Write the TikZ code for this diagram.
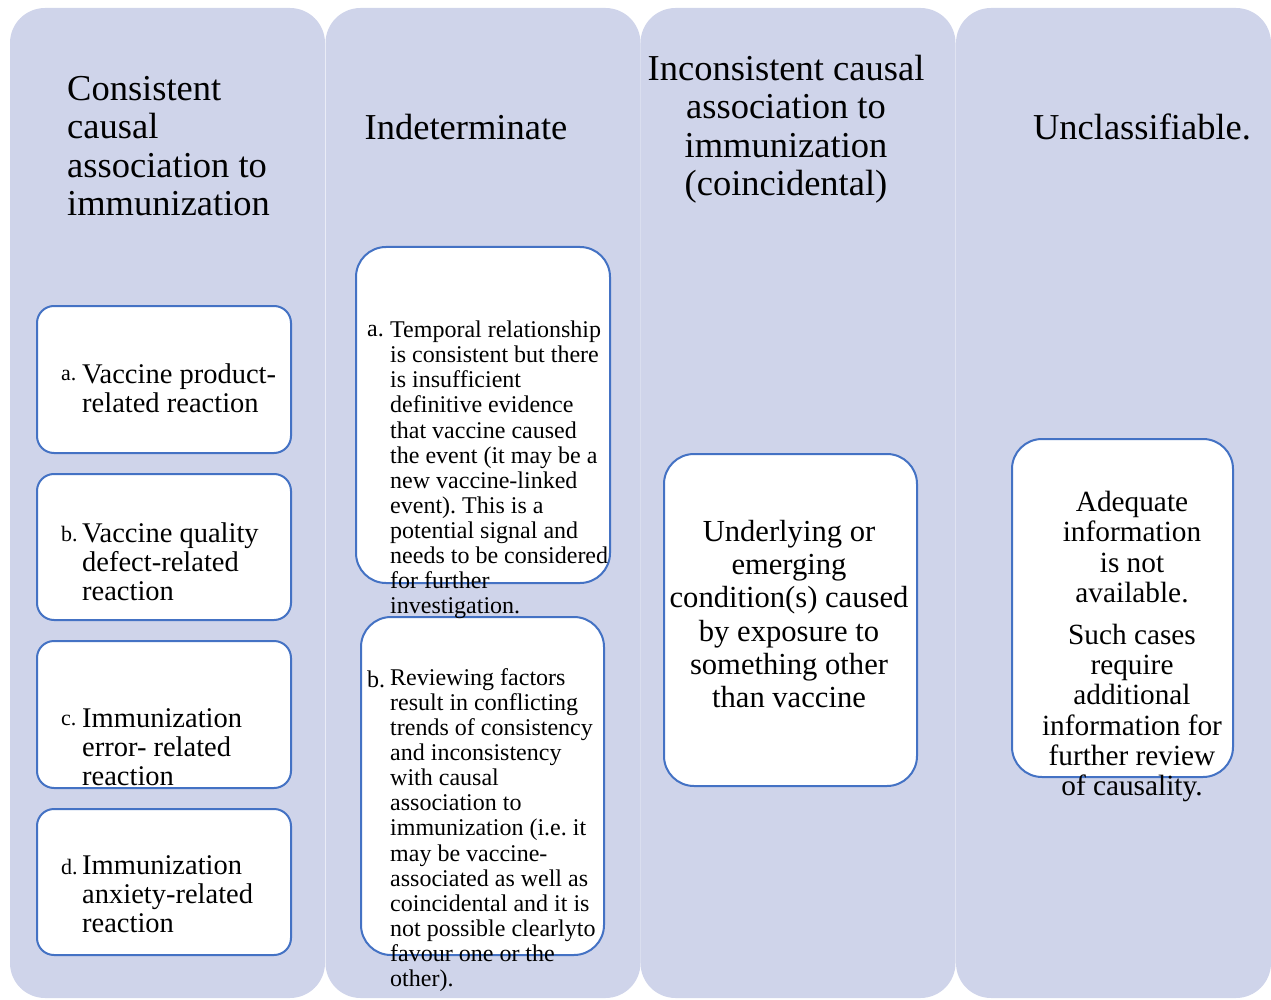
\documentclass[tikz,border=0pt]{standalone}
\usepackage{fontspec}
\setmainfont{Liberation Serif}
\frenchspacing
\definecolor{colbg}{RGB}{207,212,234}
\definecolor{boxline}{RGB}{68,114,196}
\tikzset{
  colbox/.style={rectangle, fill=colbg, rounded corners=35pt, inner sep=0pt},
  itembox/.style={rectangle, draw=boxline, line width=2pt, fill=white, inner sep=0pt},
  head/.style={inner sep=0pt, font=\fontsize{36.5}{38.5}\selectfont},
  txtA/.style={inner sep=0pt, align=left, font=\fontsize{28.5}{29}\selectfont},
  lblA/.style={inner sep=0pt, font=\fontsize{22}{24}\selectfont},
  txtB/.style={inner sep=0pt, align=left, font=\fontsize{24}{25.1}\selectfont},
  lblB/.style={inner sep=0pt, font=\fontsize{24}{25}\selectfont},
}
\begin{document}
\begin{tikzpicture}[x=1pt,y=-1pt]
\useasboundingbox (0,0) rectangle (1271,1000);
% columns
\node[colbox, minimum width=315, minimum height=990] (col1) at (167.5,503) {};
\node[colbox, minimum width=315, minimum height=990] (col2) at (483,503) {};
\node[colbox, minimum width=315, minimum height=990] (col3) at (798,503) {};
\node[colbox, minimum width=315, minimum height=990] (col4) at (1113.5,503) {};
% headers
\node[head, align=left, anchor=west] (h1) at (67,146) {Consistent\\causal\\association to\\immunization};
\node[head] (h2) at (466,127) {Indeterminate};
\node[head, align=center] (h3) at (786,129) {Inconsistent causal\\association to\\immunization\\(coincidental)};
\node[head] (h4) at (1142,127) {Unclassifiable.};
% column 1 boxes
\node[itembox, rounded corners=17pt, minimum width=254, minimum height=147] (b1a) at (164,379.5) {};
\node[itembox, rounded corners=17pt, minimum width=254, minimum height=146] (b1b) at (164,547) {};
\node[itembox, rounded corners=17pt, minimum width=254, minimum height=147] (b1c) at (164,714.5) {};
\node[itembox, rounded corners=17pt, minimum width=254, minimum height=146] (b1d) at (164,882) {};
\node[lblA, anchor=west] (l1a) at (61,375) {a.};
\node[txtA, anchor=west] (t1a) at (82,388.5) {Vaccine product-\\related reaction};
\node[lblA, anchor=west] (l1b) at (61,534) {b.};
\node[txtA, anchor=west] (t1b) at (82,561.5) {Vaccine quality\\defect-related\\reaction};
\node[lblA, anchor=west] (l1c) at (61,720) {c.};
\node[txtA, anchor=west] (t1c) at (82,747.5) {Immunization\\error- related\\reaction};
\node[lblA, anchor=west] (l1d) at (61,867) {d.};
\node[txtA, anchor=west] (t1d) at (82,894.5) {Immunization\\anxiety-related\\reaction};
% column 2 boxes
\node[itembox, rounded corners=30pt, minimum width=254, minimum height=336] (b2a) at (483,415) {};
\node[itembox, rounded corners=30pt, minimum width=243, minimum height=338] (b2b) at (482.5,786) {};
\node[lblB, anchor=west] (l2a) at (367,331) {a.};
\node[txtB, anchor=west] (t2a) at (390,470) {Temporal relationship\\is consistent but there\\is insufficient\\definitive evidence\\that vaccine caused\\the event (it may be a\\new vaccine-linked\\event). This is a\\potential signal and\\needs to be considered\\for further\\investigation.};
\node[lblB, anchor=west] (l2b) at (367,679) {b.};
\node[txtB, anchor=west] (t2b) at (390,830) {Reviewing factors\\result in conflicting\\trends of consistency\\and inconsistency\\with causal\\association to\\immunization (i.e. it\\may be vaccine-\\associated as well as\\coincidental and it is\\not possible clearlyto\\favour one or the\\other).};
% column 3 box
\node[itembox, rounded corners=30pt, minimum width=253, minimum height=332] (b3) at (790.5,620) {};
\node[inner sep=0pt, align=center, font=\fontsize{30.6}{33.2}\selectfont] (t3) at (789,614) {Underlying or\\emerging\\condition(s) caused\\by exposure to\\something other\\than vaccine};
% column 4 box
\node[itembox, rounded corners=30pt, minimum width=221, minimum height=338] (b4) at (1122.5,608) {};
\node[inner sep=0pt, align=center, font=\fontsize{29.3}{30.2}\selectfont] (t4) at (1132,646.5) {Adequate\\information\\is not\\available.\\[12pt]Such cases\\require\\additional\\information for\\further review\\of causality.};
\end{tikzpicture}
\end{document}
